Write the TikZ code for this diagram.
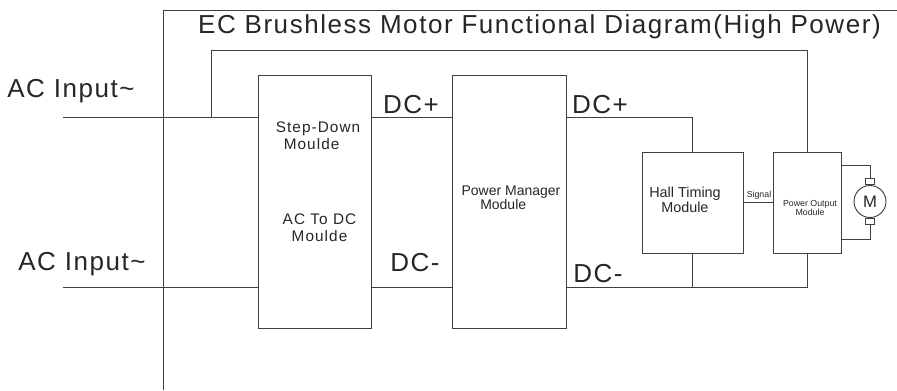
\documentclass[tikz,border=0pt]{standalone}
\usepackage{fontspec}
\setmainfont{Liberation Sans}
\newfontfamily\bigfont[LetterSpace=6]{Liberation Sans}
\newfontfamily\midfont[LetterSpace=7]{Liberation Sans}
\tikzset{
  modbox/.style={draw, minimum width=#1, inner sep=0pt},
  brush/.style={draw, minimum width=7pt, minimum height=4.5pt, inner sep=0pt},
  biglabel/.style={anchor=base, inner sep=0pt, font=\bigfont\fontsize{19.5}{19.5}\selectfont},
  midlabel/.style={align=center, inner sep=0pt, font=\midfont\fontsize{11.5}{12.75}\selectfont},
}
\begin{document}
\begin{tikzpicture}[x=0.75pt, y=-0.75pt, line width=0.7pt, draw=black!75, text=black!85]
  \useasboundingbox (0,0) rectangle (897,390);
  % modules
  \node[modbox=84.75pt, minimum height=189.75pt] (SD) at (314.5,201.5) {};
  \node[modbox=85.5pt, minimum height=189.75pt] (PM) at (509,201.5) {};
  \node[modbox=75.75pt, minimum height=75.75pt] (HT) at (692.5,202.5) {};
  \node[modbox=51pt, minimum height=75.75pt] (PO) at (807,202.5) {};
  \node[draw, circle, minimum size=24pt, inner sep=0pt, font=\fontsize{12.5}{12.5}\selectfont] (M) at (870,201.5) {M};
  \node[brush, anchor=south] (BT) at (M.north) {};
  \node[brush, anchor=north] (BB) at (M.south) {};
  % frame
  \coordinate (FA) at (163,10);
  \coordinate (FB) at (897,10);
  \coordinate (FC) at (163,390);
  \draw (FC) -- (FA) -- (FB);
  % AC lines
  \coordinate (L1) at (63,117);
  \coordinate (L2) at (63,287);
  \coordinate (T1) at (211,117);
  \coordinate (T2) at (211,50);
  \coordinate (T3) at (807,50);
  \draw (L1) -- (L1 -| SD.west);
  \draw (L2) -- (L2 -| SD.west);
  \draw (T1) -- (T2) -- (T3) -- (PO.north);
  % DC lines
  \draw (SD.east |- L1) -- (PM.west |- L1);
  \draw (SD.east |- L2) -- (PM.west |- L2);
  \draw (PM.east |- L1) -- (HT.north |- L1) -- (HT.north);
  \draw (PM.east |- L2) -- (PO.south |- L2) -- (PO.south);
  \draw (HT.south) -- (HT.south |- L2);
  \draw (HT.east) -- (PO.west);
  % motor
  \draw (PO.east |- 0,165) -- (BT.north |- 0,165) -- (BT.north);
  \draw (PO.east |- 0,239) -- (BB.south |- 0,239) -- (BB.south);
  % labels
  \node[biglabel] (Title) at (539.5,33) {EC Brushless Motor Functional Diagram(High Power)};
  \node[biglabel] (ACa) at (71,97) {AC Input\char`~};
  \node[biglabel] (ACb) at (82,270) {AC Input\char`~};
  \node[biglabel] (DCa) at (411,113) {DC+};
  \node[biglabel] (DCb) at (415,271) {DC-};
  \node[biglabel] (DCc) at (600,113) {DC+};
  \node[biglabel] (DCd) at (598,282) {DC-};
  \node[midlabel, align=left] (SDa) at (318,136) {Step-Down\\\hspace*{6pt}Moulde};
  \node[midlabel] (SDb) at (319.5,228) {AC To DC\\Moulde};
  \node[align=left, inner sep=0pt, font=\fontsize{10.5}{10.5}\selectfont] (PMa) at (511,198) {Power Manager\\\hspace*{14pt}Module};
  \node[align=left, inner sep=0pt, font=\fontsize{10.8}{11}\selectfont] (HTa) at (685,200) {Hall Timing\\\hspace*{9pt}Module};
  \node[inner sep=0pt, font=\fontsize{6.6}{6.6}\selectfont] (Sig) at (759,195) {Signal};
  \node[align=center, inner sep=0pt, font=\fontsize{6.6}{6.75}\selectfont] (POa) at (810,208) {Power Output\\Module};
\end{tikzpicture}
\end{document}
